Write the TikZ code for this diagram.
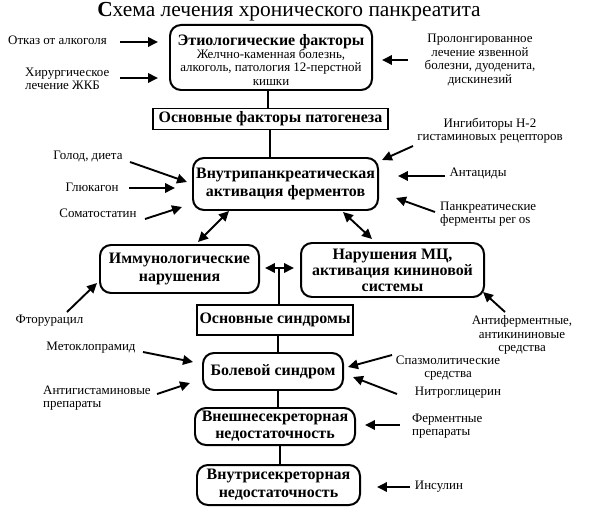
\documentclass[tikz,border=0pt]{standalone}
\usepackage{fontspec}
\setmainfont{Liberation Serif}
\usetikzlibrary{arrows.meta}
\begin{document}
\begin{tikzpicture}[x=1bp,y=-1bp,
  bx/.style={draw,line width=2pt,align=center,inner sep=1pt,font=\bfseries\fontsize{16}{18}\selectfont},
  rbox/.style={bx,rounded corners=11pt},
  sbox/.style={bx},
  lbl/.style={align=center,inner sep=0pt,font=\fontsize{13}{13.5}\selectfont},
  arr/.style={line width=1.9pt,-{Triangle[length=10pt,width=9.5pt]}},
  darr/.style={line width=1.9pt,{Triangle[length=10pt,width=9.5pt]}-{Triangle[length=10pt,width=9.5pt]}},
  link/.style={line width=1.4pt}
]
\useasboundingbox (0,0) rectangle (596,512);
% title
\node[inner sep=0pt,font=\fontsize{21.5}{23}\selectfont] (title) at (289,12) {\textbf{С}хема лечения хронического панкреатита};
% boxes
\node[rbox,minimum width=202bp,minimum height=65bp,inner ysep=0pt] (etio) at (271,57.5)
  {\rule{0pt}{16pt}Этиологические факторы\\[-5pt]
   {\mdseries\fontsize{13}{13}\selectfont Желчно-каменная болезнь,}\\[-5pt]
   {\mdseries\fontsize{13}{13}\selectfont алкоголь, патология 12-перстной}\\[-4pt]
   {\mdseries\fontsize{13}{13}\selectfont кишки}};
\node[sbox,minimum width=235bp,minimum height=21bp] (patog) at (270.5,119) {Основные факторы патогенеза};
\node[rbox,minimum width=185bp,minimum height=52bp] (vnutri) at (285.5,184) {Внутрипанкреатическая\\активация ферментов};
\node[rbox,minimum width=159bp,minimum height=48bp] (immun) at (179.5,269) {Иммунологические\\нарушения};
\node[rbox,minimum width=183bp,minimum height=54bp] (narush) at (392.5,270) {Нарушения МЦ,\\[-2pt]активация кининовой\\[-2pt]системы};
\node[sbox,minimum width=156bp,minimum height=30bp] (sindr) at (275,320) {Основные синдромы};
\node[rbox,minimum width=140bp,minimum height=37bp] (bol) at (273,371.5) {Болевой синдром};
\node[rbox,minimum width=160bp,minimum height=37bp] (vnesh) at (275,426.5) {Внешнесекреторная\\[-1pt]недостаточность};
\node[rbox,minimum width=163bp,minimum height=40bp] (vnsek) at (278.5,485) {Внутрисекреторная\\недостаточность};
% links
\draw[link] (etio.south -| 268,0) -- (patog.north -| 268,0);
\draw[link] (patog.south -| 270,0) -- (vnutri.north -| 270,0);
\coordinate (d1a) at (229,211); \coordinate (d1b) at (198,242);
\coordinate (d2a) at (343,212); \coordinate (d2b) at (372,239);
\draw[darr] (d1a) -- (d1b);
\draw[darr] (d2a) -- (d2b);
\coordinate (h1) at (265,268); \coordinate (h2) at (294,268); \coordinate (hm) at (279,268);
\draw[darr] (h1) -- (h2);
\draw[link] (hm) -- (hm |- sindr.north);
\draw[link] (sindr.south -| 278,0) -- (bol.north -| 278,0);
\draw[link] (bol.south -| 278,0) -- (vnesh.north -| 278,0);
\draw[link] (vnesh.south -| 280,0) -- (vnsek.north -| 280,0);
% labels
\node[lbl] (otkaz) at (57.5,40) {Отказ от алкоголя};
\node[lbl,align=left,anchor=west] (hir) at (25,79) {Хирургическое\\лечение ЖКБ};
\node[lbl] (prol) at (480,60) {Пролонгированное\\лечение язвенной\\болезни, дуоденита,\\дискинезий};
\node[lbl] (ingib) at (490,131) {Ингибиторы Н-2\\гистаминовых рецепторов};
\node[lbl] (golod) at (88,157) {Голод, диета};
\node[lbl] (gluk) at (92,187) {Глюкагон};
\node[lbl] (somat) at (98,213) {Соматостатин};
\node[lbl] (antac) at (478,173) {Антациды};
\node[lbl,align=left,anchor=west] (pankr) at (440,214) {Панкреатические\\ферменты per os};
\node[lbl] (ftor) at (49.5,321) {Фторурацил};
\node[lbl] (metok) at (91,348) {Метоклопрамид};
\node[lbl,align=left,anchor=west] (antig) at (43,398) {Антигистаминовые\\препараты};
\node[lbl] (antif) at (522,335) {Антиферментные,\\антикининовые\\средства};
\node[lbl] (spazm) at (448,368) {Спазмолитические\\средства};
\node[lbl] (nitro) at (458,393) {Нитроглицерин};
\node[lbl,align=left,anchor=west] (ferm) at (412,426) {Ферментные\\препараты};
\node[lbl] (insul) at (439,487) {Инсулин};
% arrows
\coordinate (a1s) at (120,42); \coordinate (a1e) at (158,42);
\coordinate (a2s) at (120,78); \coordinate (a2e) at (158,78);
\coordinate (a3s) at (408,60); \coordinate (a3e) at (382,60);
\coordinate (a4s) at (413,146); \coordinate (a4e) at (382,160);
\coordinate (a5s) at (130,162); \coordinate (a5e) at (187,182);
\coordinate (a6s) at (129,188); \coordinate (a6e) at (175,188);
\coordinate (a7s) at (145,219); \coordinate (a7e) at (182,207);
\coordinate (a8s) at (445,176); \coordinate (a8e) at (398,176);
\coordinate (a9s) at (435,212); \coordinate (a9e) at (396,198);
\coordinate (a10s) at (67,312); \coordinate (a10e) at (97,283);
\coordinate (a11s) at (143,352); \coordinate (a11e) at (193,362);
\coordinate (a12s) at (157,394); \coordinate (a12e) at (190,383);
\coordinate (a13s) at (505,312); \coordinate (a13e) at (483,292);
\coordinate (a14s) at (392,355); \coordinate (a14e) at (348,367);
\coordinate (a15s) at (397,394); \coordinate (a15e) at (353,377);
\coordinate (a16s) at (400,425); \coordinate (a16e) at (365,425);
\coordinate (a17s) at (410,487); \coordinate (a17e) at (377,487);
\foreach \i in {1,...,17} {\draw[arr] (a\i s) -- (a\i e);}
\end{tikzpicture}
\end{document}
